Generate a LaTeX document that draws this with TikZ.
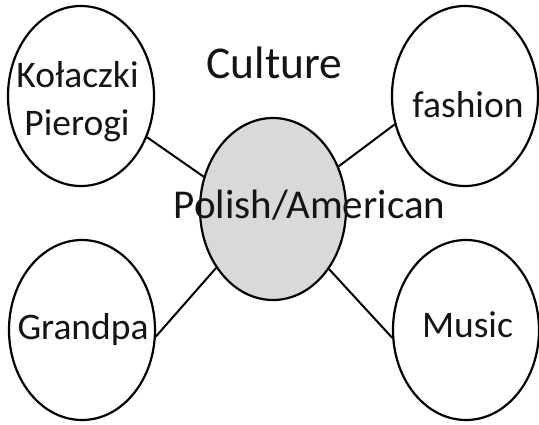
\documentclass[tikz,border=0pt]{standalone}
\usepackage{fontspec}
\setmainfont{Carlito}
\usetikzlibrary{shapes.geometric}
\definecolor{hubgray}{RGB}{217,217,217}
\definecolor{inkcol}{RGB}{20,20,20}
\begin{document}
\begin{tikzpicture}[x=1pt,y=-1pt,
  bubble/.style={ellipse,draw=black,line width=2.2pt,fill=white,inner sep=0pt,minimum width=146pt,minimum height=180pt},
  hub/.style={bubble,fill=hubgray,minimum height=182pt},
  link/.style={draw=black,line width=2pt},
  lbl/.style={anchor=base,inner sep=0pt,text=inkcol,font=\fontsize{37.5}{45}\selectfont}]
\useasboundingbox (0,0) rectangle (539,424);
\node[hub] (c) at (273,209) {};
\node[bubble] (tl) at (81,96) {};
\node[bubble] (tr) at (465,96) {};
\node[bubble] (bl) at (82,330) {};
\node[bubble] (br) at (466,330) {};
\draw[link] (tl.-32) -- (c.155);
\draw[link] (tr.202) -- (c.33);
\draw[link] (bl.-5) -- (c.226);
\draw[link] (br.186) -- (c.-47);
\node[lbl,font=\fontsize{45.5}{54}\selectfont] (culture) at (274.5,78) {Culture};
\node[lbl,font=\fontsize{41}{48}\selectfont] (polam) at (309.5,218) {Polish/American};
\node[lbl] (kol) at (77.5,87) {Kołaczki};
\node[lbl] (pie) at (77,135) {Pierogi};
\node[lbl] (fas) at (468,117) {fashion};
\node[lbl] (gra) at (83,339) {Grandpa};
\node[lbl] (mus) at (467.5,337) {Music};
\end{tikzpicture}
\end{document}
